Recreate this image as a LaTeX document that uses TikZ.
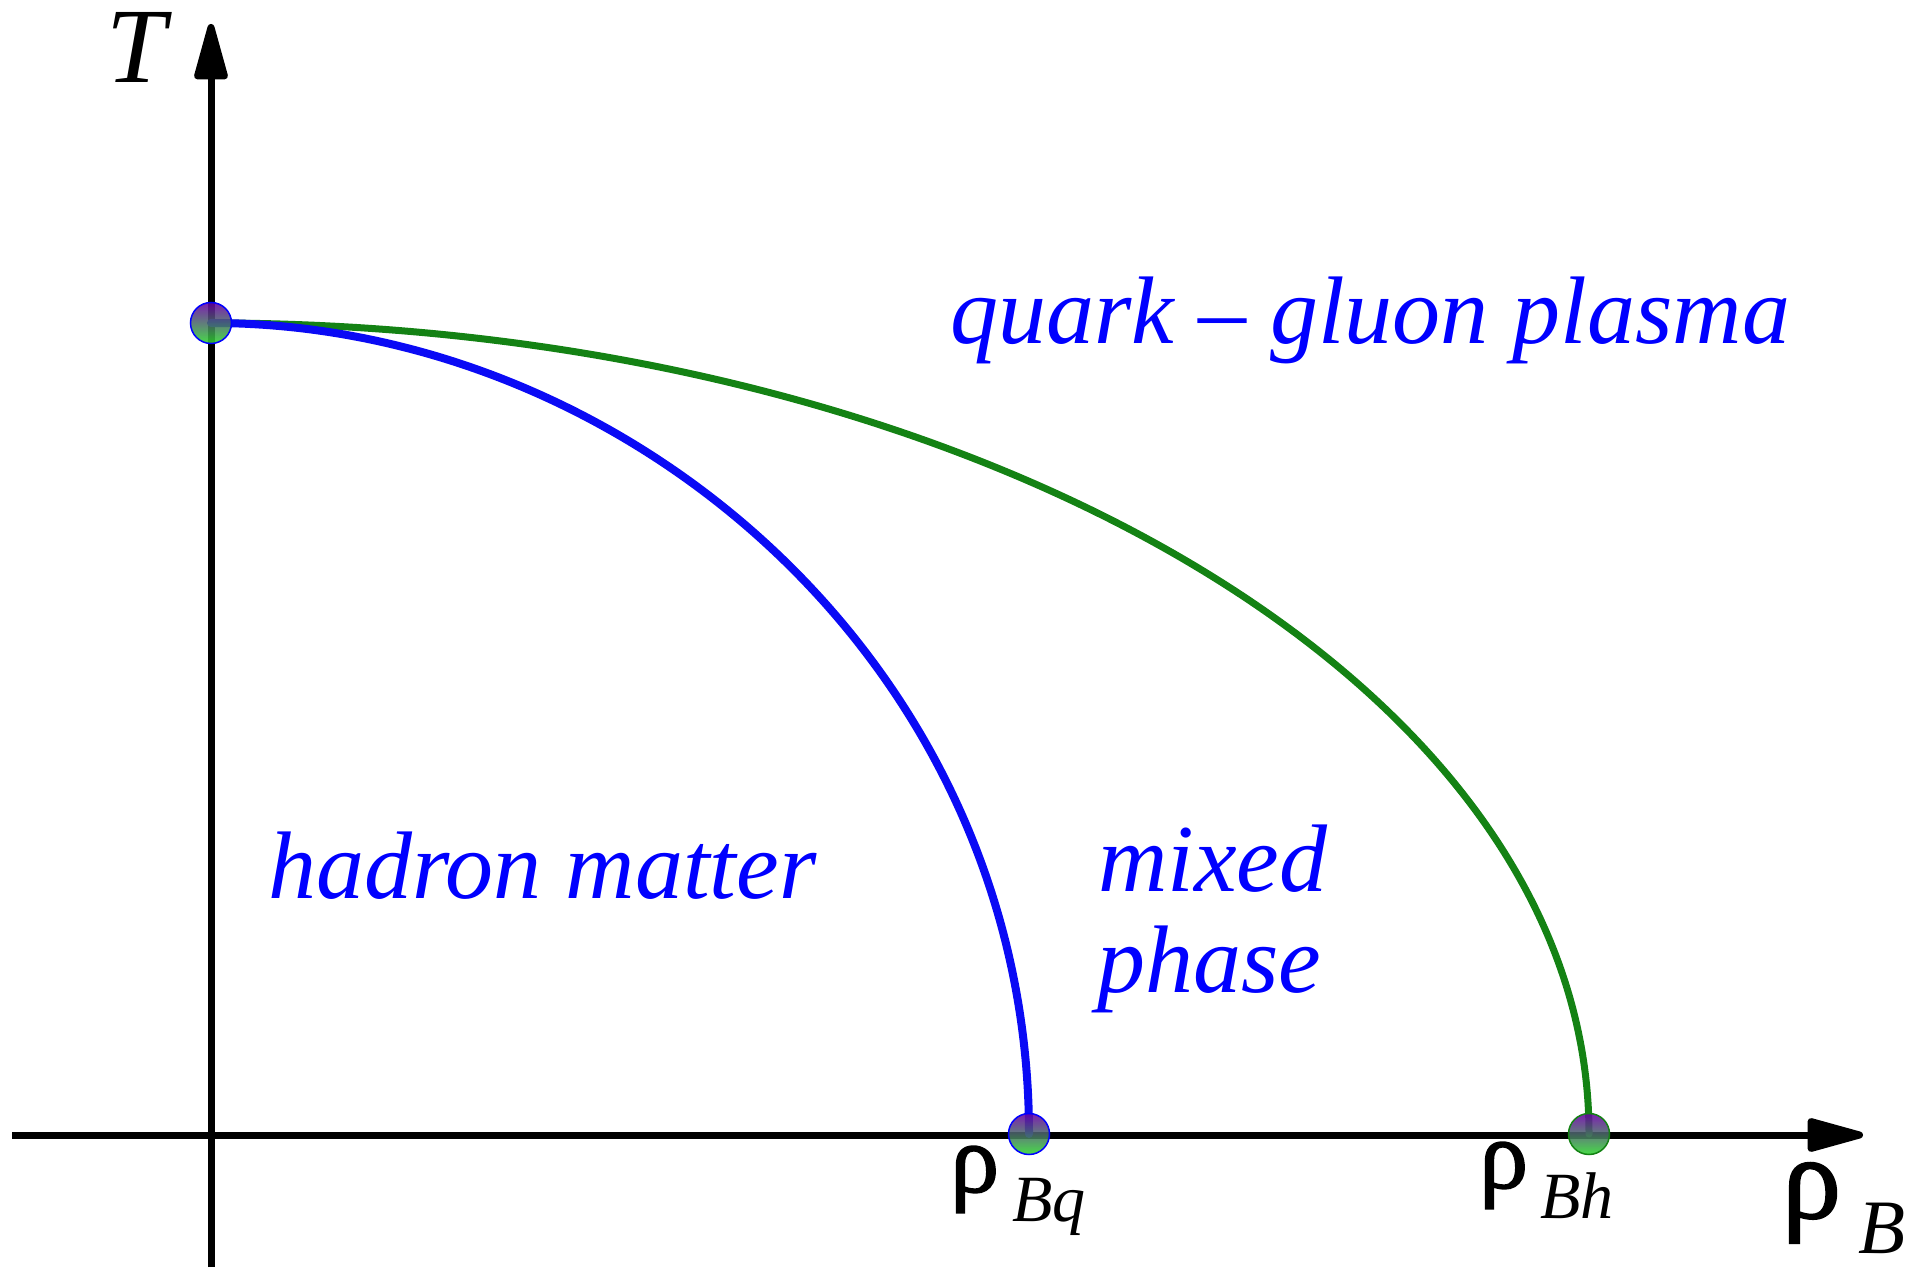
\documentclass[tikz,border=0pt]{standalone}
\usepackage{fontspec}
\setmainfont{Liberation Serif}
\newfontfamily\rhofont{Liberation Serif}[FakeBold=1.5]
\usetikzlibrary{arrows.meta,calc}
\definecolor{dotpurple}{RGB}{105,0,165}
\definecolor{dotgreen}{RGB}{45,215,45}
\definecolor{curveblue}{RGB}{10,10,245}
\definecolor{curvegreen}{RGB}{20,130,20}
\begin{document}
\begin{tikzpicture}[x=1pt,y=1pt,
  axis/.style={line width=7pt,-{Triangle[length=66pt,width=34pt,round]}},
  lbl/.style={inner sep=0pt,anchor=base west,text=blue,font=\fontsize{96}{100}\selectfont\itshape},
  rholbl/.style={inner sep=0pt,anchor=base west,text=black,font=\fontsize{98}{100}\selectfont},
  dot/.style={circle,minimum size=41pt,inner sep=0pt,draw=#1,line width=1.5pt,
    top color=dotpurple,bottom color=dotgreen,fill opacity=0.88,draw opacity=1},
  phaseline/.style={line width=#1,line cap=round}]
\useasboundingbox (0,0) rectangle (1922,1267);
% axes
\coordinate (xs) at (12,132);
\coordinate (xe) at (1863,132);
\coordinate (ys) at (211,0);
\coordinate (ye) at (211,1243);
\draw[axis] (xs) -- (xe);
\draw[axis] (ys) -- (ye);
% point positions
\coordinate (c0) at (211,944);
\coordinate (cq) at (1029,133);
\coordinate (ch) at (1589,133);
% curves
\draw[phaseline=7pt,curvegreen] (c0) .. controls ($(c0)+(750,0)$) and ($(ch)+(0,455)$) .. (ch);
\draw[phaseline=8pt,curveblue] (c0) .. controls ($(c0)+(420,0)$) and ($(cq)+(0,465)$) .. (cq);
% dots
\node[dot=blue] (p0) at (c0) {};
\node[dot=blue] (pq) at (cq) {};
\node[dot=curvegreen] (ph) at (ch) {};
% labels
\node[inner sep=0pt,anchor=base west,font=\fontsize{107}{110}\selectfont\itshape] (tlab) at (106,1184) {T};
\node[lbl] (qgp) at (950,923) {quark -- gluon plasma};
\node[lbl] (hm) at (268,368) {hadron matter};
\node[lbl] (mx) at (1098,375) {mixed};
\node[lbl] (ph2) at (1097,274) {phase};
\node[rholbl] (lq) at (950,75) {{\rhofont ρ}\hspace{13pt}\raisebox{-29pt}{\fontsize{66}{66}\selectfont\itshape Bq}};
\node[rholbl] (lh) at (1479,79) {{\rhofont ρ}\hspace{12pt}\raisebox{-30pt}{\fontsize{66}{66}\selectfont\itshape Bh}};
\node[rholbl,font=\fontsize{118}{120}\selectfont] (lb) at (1782,49) {{\rhofont ρ}\hspace{17pt}\raisebox{-35pt}{\fontsize{77}{77}\selectfont\itshape B}};
\end{tikzpicture}
\end{document}
